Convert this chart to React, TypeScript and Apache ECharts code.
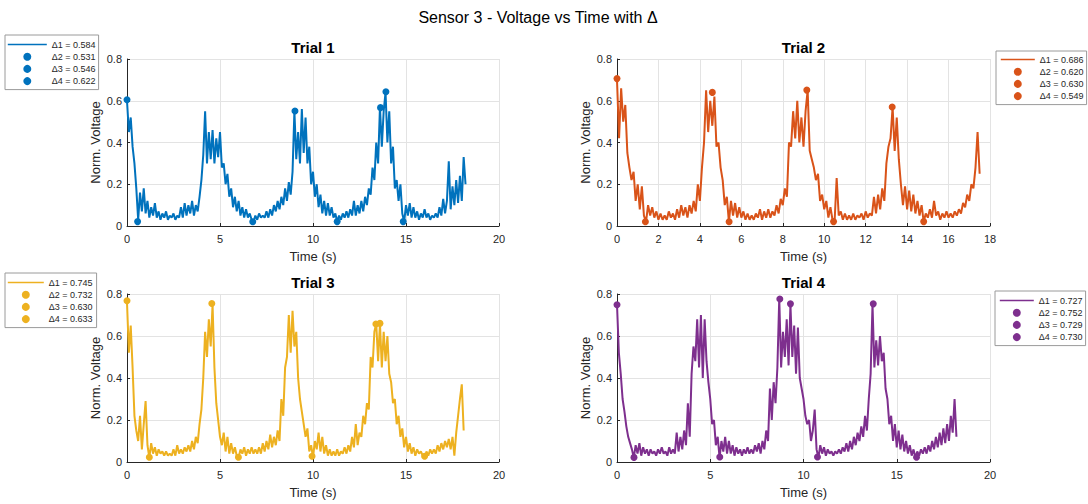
import React, { useEffect, useRef } from "react";
import * as echarts from "echarts";

// ---------------- DATA ----------------
const MAIN_TITLE = "Sensor 3 - Voltage vs Time with Δ";
const TRIAL_TITLES = ["Trial 1", "Trial 2", "Trial 3", "Trial 4"];
const X_LABEL = "Time (s)";
const Y_LABEL = "Norm. Voltage";
const SAMPLE_DT = 0.1; // seconds between samples

const trial1Voltage = [
  0.60, 0.45, 0.52, 0.38, 0.30, 0.18, 0.03, 0.16, 0.07, 0.18,
  0.06, 0.12, 0.04, 0.09, 0.05, 0.11, 0.04, 0.07, 0.03, 0.06,
  0.04, 0.07, 0.03, 0.05, 0.04, 0.06, 0.03, 0.05, 0.04, 0.09,
  0.04, 0.11, 0.05, 0.10, 0.06, 0.12, 0.05, 0.10, 0.07, 0.14,
  0.22, 0.34, 0.55, 0.30, 0.45, 0.32, 0.46, 0.30, 0.42, 0.33,
  0.45, 0.28, 0.30, 0.20, 0.25, 0.14, 0.18, 0.09, 0.14, 0.07,
  0.12, 0.05, 0.09, 0.04, 0.08, 0.04, 0.06, 0.03, 0.02, 0.05,
  0.03, 0.06, 0.04, 0.05, 0.04, 0.07, 0.04, 0.08, 0.05, 0.10,
  0.07, 0.12, 0.08, 0.14, 0.10, 0.18, 0.12, 0.21, 0.15, 0.26,
  0.55, 0.32, 0.45, 0.30, 0.56, 0.35, 0.52, 0.30, 0.38, 0.20,
  0.26, 0.14, 0.20, 0.09, 0.15, 0.06, 0.12, 0.05, 0.11, 0.05,
  0.09, 0.04, 0.06, 0.02, 0.05, 0.03, 0.06, 0.04, 0.07, 0.04,
  0.08, 0.05, 0.12, 0.05, 0.10, 0.06, 0.12, 0.07, 0.14, 0.10,
  0.18, 0.15, 0.28, 0.22, 0.40, 0.30, 0.57, 0.38, 0.55, 0.64,
  0.40, 0.55, 0.30, 0.38, 0.18, 0.22, 0.12, 0.20, 0.06, 0.02,
  0.10, 0.05, 0.11, 0.04, 0.09, 0.04, 0.07, 0.03, 0.06, 0.04,
  0.08, 0.04, 0.06, 0.03, 0.05, 0.04, 0.06, 0.04, 0.09, 0.05,
  0.13, 0.06, 0.12, 0.31, 0.08, 0.19, 0.10, 0.22, 0.11, 0.24,
  0.12, 0.33, 0.20,
];

const trial2Voltage = [
  0.70, 0.42, 0.66, 0.50, 0.58, 0.35, 0.28, 0.22, 0.26, 0.12,
  0.20, 0.08, 0.19, 0.05, 0.02, 0.10, 0.05, 0.09, 0.04, 0.07,
  0.03, 0.06, 0.03, 0.05, 0.03, 0.07, 0.04, 0.06, 0.03, 0.08,
  0.04, 0.10, 0.05, 0.09, 0.04, 0.10, 0.06, 0.12, 0.07, 0.20,
  0.12, 0.28, 0.40, 0.65, 0.45, 0.60, 0.48, 0.62, 0.38, 0.40,
  0.28, 0.22, 0.10, 0.14, 0.02, 0.12, 0.05, 0.11, 0.04, 0.09,
  0.04, 0.07, 0.03, 0.06, 0.03, 0.05, 0.03, 0.06, 0.04, 0.08,
  0.03, 0.07, 0.04, 0.08, 0.04, 0.07, 0.05, 0.10, 0.06, 0.13,
  0.10, 0.18, 0.14, 0.40, 0.38, 0.55, 0.42, 0.60, 0.40, 0.52,
  0.38, 0.55, 0.65, 0.36, 0.32, 0.28, 0.22, 0.25, 0.12, 0.15,
  0.08, 0.12, 0.04, 0.09, 0.03, 0.02, 0.23, 0.05, 0.07, 0.03,
  0.06, 0.03, 0.05, 0.03, 0.06, 0.03, 0.05, 0.04, 0.06, 0.03,
  0.07, 0.04, 0.06, 0.05, 0.14, 0.06, 0.15, 0.08, 0.18, 0.12,
  0.30, 0.38, 0.42, 0.57, 0.36, 0.52, 0.32, 0.20, 0.10, 0.19,
  0.08, 0.17, 0.07, 0.15, 0.06, 0.12, 0.05, 0.10, 0.02, 0.06,
  0.04, 0.08, 0.04, 0.12, 0.05, 0.07, 0.03, 0.06, 0.04, 0.07,
  0.04, 0.06, 0.04, 0.07, 0.05, 0.08, 0.06, 0.11, 0.09, 0.15,
  0.12, 0.20, 0.18, 0.28, 0.45, 0.25,
];

const trial3Voltage = [
  0.76, 0.52, 0.65, 0.45, 0.22, 0.15, 0.10, 0.22, 0.06, 0.18,
  0.29, 0.08, 0.02, 0.09, 0.04, 0.07, 0.03, 0.06, 0.04, 0.05,
  0.03, 0.05, 0.03, 0.04, 0.03, 0.06, 0.03, 0.08, 0.04, 0.06,
  0.04, 0.07, 0.05, 0.08, 0.05, 0.10, 0.06, 0.12, 0.09, 0.18,
  0.25, 0.40, 0.62, 0.50, 0.68, 0.55, 0.75, 0.45, 0.28, 0.20,
  0.12, 0.08, 0.14, 0.05, 0.12, 0.04, 0.09, 0.04, 0.07, 0.03,
  0.02, 0.06, 0.04, 0.07, 0.03, 0.06, 0.04, 0.07, 0.04, 0.06,
  0.04, 0.07, 0.04, 0.09, 0.05, 0.10, 0.06, 0.13, 0.07, 0.12,
  0.08, 0.15, 0.10, 0.30, 0.22, 0.45, 0.50, 0.70, 0.52, 0.72,
  0.55, 0.62, 0.40, 0.30, 0.24, 0.18, 0.12, 0.16, 0.05, 0.08,
  0.02, 0.10, 0.06, 0.14, 0.05, 0.12, 0.04, 0.08, 0.03, 0.06,
  0.03, 0.05, 0.03, 0.06, 0.03, 0.05, 0.04, 0.07, 0.04, 0.08,
  0.05, 0.12, 0.07, 0.18, 0.08, 0.14, 0.12, 0.22, 0.18, 0.28,
  0.25, 0.50, 0.45, 0.62, 0.66, 0.48, 0.66, 0.45, 0.62, 0.48,
  0.60, 0.42, 0.38, 0.28, 0.30, 0.18, 0.22, 0.12, 0.16, 0.07,
  0.12, 0.05, 0.09, 0.04, 0.07, 0.03, 0.06, 0.04, 0.05, 0.03,
  0.02, 0.05, 0.03, 0.06, 0.04, 0.06, 0.04, 0.08, 0.05, 0.09,
  0.06, 0.10, 0.07, 0.11, 0.06, 0.12, 0.03, 0.14, 0.22, 0.30,
  0.37, 0.15,
];

const trial4Voltage = [
  0.75, 0.52, 0.42, 0.30, 0.24, 0.17, 0.12, 0.09, 0.06, 0.02,
  0.08, 0.04, 0.09, 0.03, 0.07, 0.04, 0.06, 0.03, 0.06, 0.04,
  0.05, 0.03, 0.06, 0.04, 0.07, 0.04, 0.05, 0.03, 0.07, 0.04,
  0.06, 0.04, 0.14, 0.05, 0.12, 0.06, 0.15, 0.08, 0.28, 0.12,
  0.42, 0.55, 0.48, 0.68, 0.45, 0.70, 0.40, 0.68, 0.48, 0.38,
  0.30, 0.18, 0.20, 0.08, 0.12, 0.02, 0.10, 0.05, 0.12, 0.04,
  0.10, 0.04, 0.08, 0.03, 0.07, 0.04, 0.06, 0.03, 0.06, 0.04,
  0.07, 0.04, 0.06, 0.04, 0.08, 0.05, 0.09, 0.04, 0.10, 0.06,
  0.15, 0.10, 0.35, 0.20, 0.38, 0.28, 0.45, 0.78, 0.45, 0.62,
  0.50, 0.68, 0.46, 0.75, 0.50, 0.65, 0.42, 0.64, 0.40, 0.35,
  0.30, 0.22, 0.18, 0.20, 0.10, 0.15, 0.25, 0.06, 0.02, 0.08,
  0.04, 0.07, 0.03, 0.06, 0.04, 0.05, 0.03, 0.05, 0.04, 0.06,
  0.04, 0.07, 0.05, 0.09, 0.05, 0.10, 0.06, 0.12, 0.08, 0.14,
  0.10, 0.17, 0.12, 0.22, 0.15, 0.30, 0.42, 0.75, 0.45, 0.58,
  0.46, 0.60, 0.48, 0.52, 0.35, 0.30, 0.18, 0.22, 0.10, 0.18,
  0.07, 0.15, 0.06, 0.13, 0.05, 0.10, 0.04, 0.08, 0.03, 0.06,
  0.02, 0.05, 0.03, 0.06, 0.04, 0.07, 0.04, 0.08, 0.05, 0.10,
  0.06, 0.12, 0.07, 0.14, 0.08, 0.16, 0.09, 0.18, 0.10, 0.22,
  0.14, 0.30, 0.12,
];

// Marked peak / trough pairs (time s, normalized voltage)
const trial1PeakTimes = [0, 9.03, 13.63, 13.92];
const trial1PeakValues = [0.605, 0.551, 0.567, 0.643];
const trial1TroughTimes = [0.57, 6.76, 11.3, 14.85];
const trial1TroughValues = [0.021, 0.02, 0.021, 0.021];

const trial2PeakTimes = [0, 4.6, 9.16, 13.28];
const trial2PeakValues = [0.706, 0.64, 0.651, 0.57];
const trial2TroughTimes = [1.37, 5.41, 10.45, 14.8];
const trial2TroughValues = [0.02, 0.02, 0.021, 0.021];

const trial3PeakTimes = [0, 4.56, 13.38, 13.6];
const trial3PeakValues = [0.768, 0.755, 0.657, 0.66];
const trial3TroughTimes = [1.2, 5.99, 9.95, 16.0];
const trial3TroughValues = [0.023, 0.023, 0.027, 0.027];

const trial4PeakTimes = [0, 8.73, 9.3, 13.74];
const trial4PeakValues = [0.749, 0.776, 0.753, 0.753];
const trial4TroughTimes = [0.91, 5.51, 10.75, 16.06];
const trial4TroughValues = [0.022, 0.024, 0.024, 0.023];

const trial1Legend = ["Δ1 = 0.584", "Δ2 = 0.531", "Δ3 = 0.546", "Δ4 = 0.622"];
const trial2Legend = ["Δ1 = 0.686", "Δ2 = 0.620", "Δ3 = 0.630", "Δ4 = 0.549"];
const trial3Legend = ["Δ1 = 0.745", "Δ2 = 0.732", "Δ3 = 0.630", "Δ4 = 0.633"];
const trial4Legend = ["Δ1 = 0.727", "Δ2 = 0.752", "Δ3 = 0.729", "Δ4 = 0.730"];

const xAxisMax = [20, 18, 20, 20];
const xAxisStep = [5, 2, 5, 5];
const yAxisMax = 0.8;
const yAxisStep = 0.2;

// ---------------- STYLE / LAYOUT ----------------
const COLORS = ["#0072BD", "#D95319", "#EDB120", "#7E2F8E"];
const FONT = "'Liberation Sans', Arial, Helvetica, sans-serif";
const TEXT = "#262626";
const GRIDS = [
  { left: 127, top: 59, width: 372, height: 167 },
  { left: 617, top: 59, width: 373, height: 167 },
  { left: 127, top: 294, width: 372, height: 168 },
  { left: 617, top: 294, width: 373, height: 168 },
];
const LEGEND_POS = [
  { left: 5, top: 35, itemWidth: 39, padding: [5, 3, 4, 2] },
  { left: 996, top: 51, itemWidth: 34, padding: [4, 3, 4, 4] },
  { left: 5, top: 273, itemWidth: 36, padding: [5, 4, 4, 2] },
  { left: 995, top: 291, itemWidth: 34, padding: [5, 3, 4, 4] },
];

export default function App() {
  const ref = useRef<HTMLDivElement>(null);

  useEffect(() => {
    if (!ref.current) return;
    const chart = echarts.init(ref.current, undefined, { renderer: "svg" });

    const voltages = [trial1Voltage, trial2Voltage, trial3Voltage, trial4Voltage];
    const peakT = [trial1PeakTimes, trial2PeakTimes, trial3PeakTimes, trial4PeakTimes];
    const peakV = [trial1PeakValues, trial2PeakValues, trial3PeakValues, trial4PeakValues];
    const troughT = [trial1TroughTimes, trial2TroughTimes, trial3TroughTimes, trial4TroughTimes];
    const troughV = [trial1TroughValues, trial2TroughValues, trial3TroughValues, trial4TroughValues];
    const legends = [trial1Legend, trial2Legend, trial3Legend, trial4Legend];
    const key = (k: number, label: string) => `T${k + 1}|${label}`;

    const series: any[] = [];
    voltages.forEach((vals, k) => {
      series.push({
        name: key(k, legends[k][0]),
        type: "line",
        xAxisIndex: k,
        yAxisIndex: k,
        data: vals.map((v, i) => [+(i * SAMPLE_DT).toFixed(2), v]),
        symbol: "none",
        lineStyle: { color: COLORS[k], width: 2 },
        itemStyle: { color: COLORS[k] },
        z: 2,
      });
      for (let j = 0; j < 4; j++) {
        series.push({
          name: j < 3 ? key(k, legends[k][j + 1]) : key(k, "pair 4"),
          type: "scatter",
          xAxisIndex: k,
          yAxisIndex: k,
          data: [
            [peakT[k][j], peakV[k][j]],
            [troughT[k][j], troughV[k][j]],
          ],
          symbol: "circle",
          symbolSize: 7,
          itemStyle: { color: COLORS[k], opacity: 1 },
          z: 3,
        });
      }
    });

    const grid = GRIDS.map((g) => ({ ...g, containLabel: false }));

    const xAxis = GRIDS.map((_, k) => ({
      type: "value",
      gridIndex: k,
      min: 0,
      max: xAxisMax[k],
      interval: xAxisStep[k],
      name: X_LABEL,
      nameLocation: "middle",
      nameGap: 24,
      nameTextStyle: { fontSize: 13, color: TEXT, fontFamily: FONT },
      axisLine: { show: true, onZero: false, lineStyle: { color: TEXT, width: 1 } },
      axisTick: { show: true, inside: true, length: 3, lineStyle: { color: TEXT } },
      axisLabel: { fontSize: 11, color: TEXT, fontFamily: FONT, margin: 7 },
      splitLine: { show: true, lineStyle: { color: "#e3e3e3", width: 1 } },
    }));

    const yAxis = GRIDS.map((_, k) => ({
      type: "value",
      gridIndex: k,
      min: 0,
      max: yAxisMax,
      interval: yAxisStep,
      name: Y_LABEL,
      nameLocation: "middle",
      nameGap: 25,
      nameTextStyle: { fontSize: 13, color: TEXT, fontFamily: FONT },
      axisLine: { show: true, onZero: false, lineStyle: { color: TEXT, width: 1 } },
      axisTick: { show: true, inside: true, length: 3, lineStyle: { color: TEXT } },
      axisLabel: { fontSize: 11, color: TEXT, fontFamily: FONT, margin: 5 },
      splitLine: { show: true, lineStyle: { color: "#e3e3e3", width: 1 } },
    }));

    const legend = LEGEND_POS.map((p, k) => ({
      data: legends[k].map((label, j) =>
        j === 0
          ? { name: key(k, label), itemStyle: { opacity: 0 }, lineStyle: { width: 1.6 } }
          : { name: key(k, label) }
      ),
      formatter: (name: string) => name.split("|")[1],
      orient: "vertical",
      left: p.left,
      top: p.top,
      itemWidth: p.itemWidth,
      itemHeight: 8,
      itemGap: 3.2,
      padding: p.padding,
      borderColor: "#9a9a9a",
      borderWidth: 1,
      borderRadius: 0,
      backgroundColor: "#ffffff",
      selectedMode: false,
      textStyle: { fontSize: 9, color: TEXT, fontFamily: FONT },
    }));

    const titleText = [
      { x: 538, y: 17, text: MAIN_TITLE, font: `16px ${FONT}` },
      ...GRIDS.map((g, k) => ({
        x: g.left + g.width / 2,
        y: g.top - 12,
        text: TRIAL_TITLES[k],
        font: `bold 15px ${FONT}`,
      })),
    ];

    chart.setOption({
      animation: false,
      backgroundColor: "#ffffff",
      textStyle: { fontFamily: FONT },
      grid,
      xAxis,
      yAxis,
      legend,
      series,
      graphic: titleText.map((t) => ({
        type: "text",
        x: t.x,
        y: t.y,
        style: {
          text: t.text,
          font: t.font,
          fill: "#000000",
          align: "center",
          verticalAlign: "middle",
          textAlign: "center",
          textVerticalAlign: "middle",
        },
      })),
    });

    return () => chart.dispose();
  }, []);

  return (
    <div
      ref={ref}
      style={{ position: "absolute", left: 0, top: 0, width: 1088, height: 504 }}
    />
  );
}
